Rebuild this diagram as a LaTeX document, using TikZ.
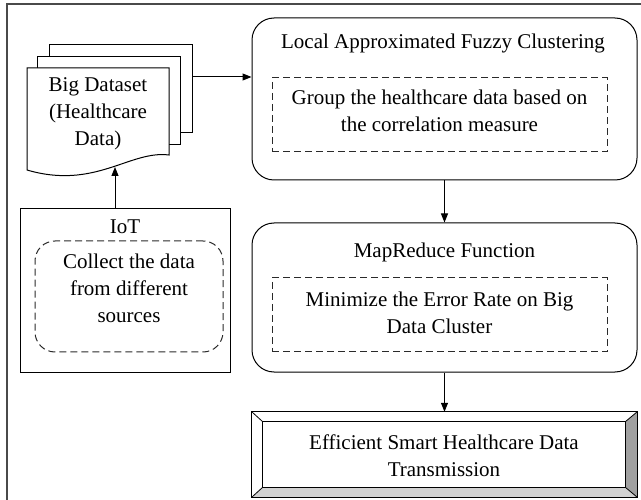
\documentclass[tikz,border=0pt]{standalone}
\usepackage{fontspec}
\setmainfont{Liberation Serif}
\usetikzlibrary{arrows.meta, positioning, calc}
\definecolor{FrameGray}{HTML}{4A4A4A}
\definecolor{DashGray}{HTML}{2A2A2A}
\definecolor{BevelDark}{HTML}{A0A0A0}
\definecolor{BevelLight}{HTML}{D2D2D2}
\newcommand{\diagfont}{\fontsize{21}{27}\selectfont}
\tikzset{
    stage/.style={draw, line width=1pt, rounded corners=22pt, minimum width=385pt, inner sep=0pt},
    dashbox/.style={draw=DashGray, line width=1pt, dash pattern=on 7pt off 4pt, minimum width=335pt, inner sep=0pt},
    dashround/.style={dashbox, rounded corners=20pt, minimum width=188pt, minimum height=111pt},
    iotbox/.style={draw, line width=1pt, minimum width=210pt, minimum height=163pt, inner sep=0pt},
    docpage/.style={draw, fill=white, line width=1pt, minimum width=143pt, minimum height=88pt, inner sep=0pt},
    txt/.style={align=center, inner sep=0pt},
    flow/.style={-{Triangle[length=9pt,width=7pt]}, line width=1pt}
}

\begin{document}
\begin{tikzpicture}[x=1pt, y=-1pt, font=\diagfont]
    \useasboundingbox (0,0) rectangle (641,500);
    \draw[FrameGray, line width=1.4pt] (7,4) rectangle (700,560);

    % stacked document
    \node[docpage] (page3) at (120.5,89) {};
    \node[docpage] (page2) at (109,101) {};
    \filldraw[fill=white, line width=1pt] (169,155) -- (169,68) -- (27,68) -- (27,170)
        .. controls (95,190) and (130,150) .. (169,155) -- cycle;
    \node[txt] (data) at (98,114) {Big Dataset\\(Healthcare\\Data)};
    \coordinate (databot) at (115,167);
    \coordinate (feed) at (192,77);

    % IoT source
    \node[iotbox] (iot) at (125,290.5) {};
    \node[txt] (iotTitle) at (125,227) {IoT};
    \node[dashround] (collectbox) at (129,296.5) {};
    \node[txt] (collect) at (129,288) {Collect the data\\from different\\sources};

    % clustering stage
    \node[stage, minimum height=162pt] (lafc) at (444.5,99) {};
    \node[txt] (lafcTitle) at (443,43) {Local Approximated Fuzzy Clustering};
    \node[dashbox, minimum height=74pt] (groupbox) at (439.5,115) {};
    \node[txt] (group) at (439.5,111) {Group the healthcare data based on\\the correlation measure};

    % MapReduce stage
    \node[stage, minimum height=149pt] (mapred) at (444.5,297.5) {};
    \node[txt] (mapredTitle) at (444.5,252) {MapReduce Function};
    \node[dashbox, minimum height=74pt] (errbox) at (439.5,315) {};
    \node[txt] (err) at (439.5,313) {Minimize the Error Rate on Big\\Data Cluster};

    % output
    \node[minimum width=385pt, minimum height=85pt, inner sep=0pt] (final) at (444.5,454.5) {};
    \node[minimum width=362pt, minimum height=65pt, inner sep=0pt] (finalIn) at (444,454.5) {};
    \fill[white] (final.north west) -- (final.north east) -- (finalIn.north east) -- (finalIn.north west) -- cycle;
    \fill[BevelDark] (final.north east) -- (final.south east) -- (finalIn.south east) -- (finalIn.north east) -- cycle;
    \fill[BevelLight] (final.south west) -- (final.south east) -- (finalIn.south east) -- (finalIn.south west) -- cycle;
    \draw[line width=1pt] (final.north west) rectangle (final.south east);
    \draw[line width=0.8pt] (finalIn.north west) rectangle (finalIn.south east);
    \foreach \c in {north west, north east, south east, south west}
        \draw[line width=0.8pt] (final.\c) -- (finalIn.\c);
    \node[txt] (result) at (444,456) {Efficient Smart Healthcare Data\\Transmission};

    \draw[flow] (feed) -- (feed -| lafc.west);
    \draw[flow] (databot |- iot.north) -- (databot);
    \draw[flow] (lafc.south) -- (mapred.north);
    \draw[flow] (mapred.south) -- (final.north);
\end{tikzpicture}
\end{document}
